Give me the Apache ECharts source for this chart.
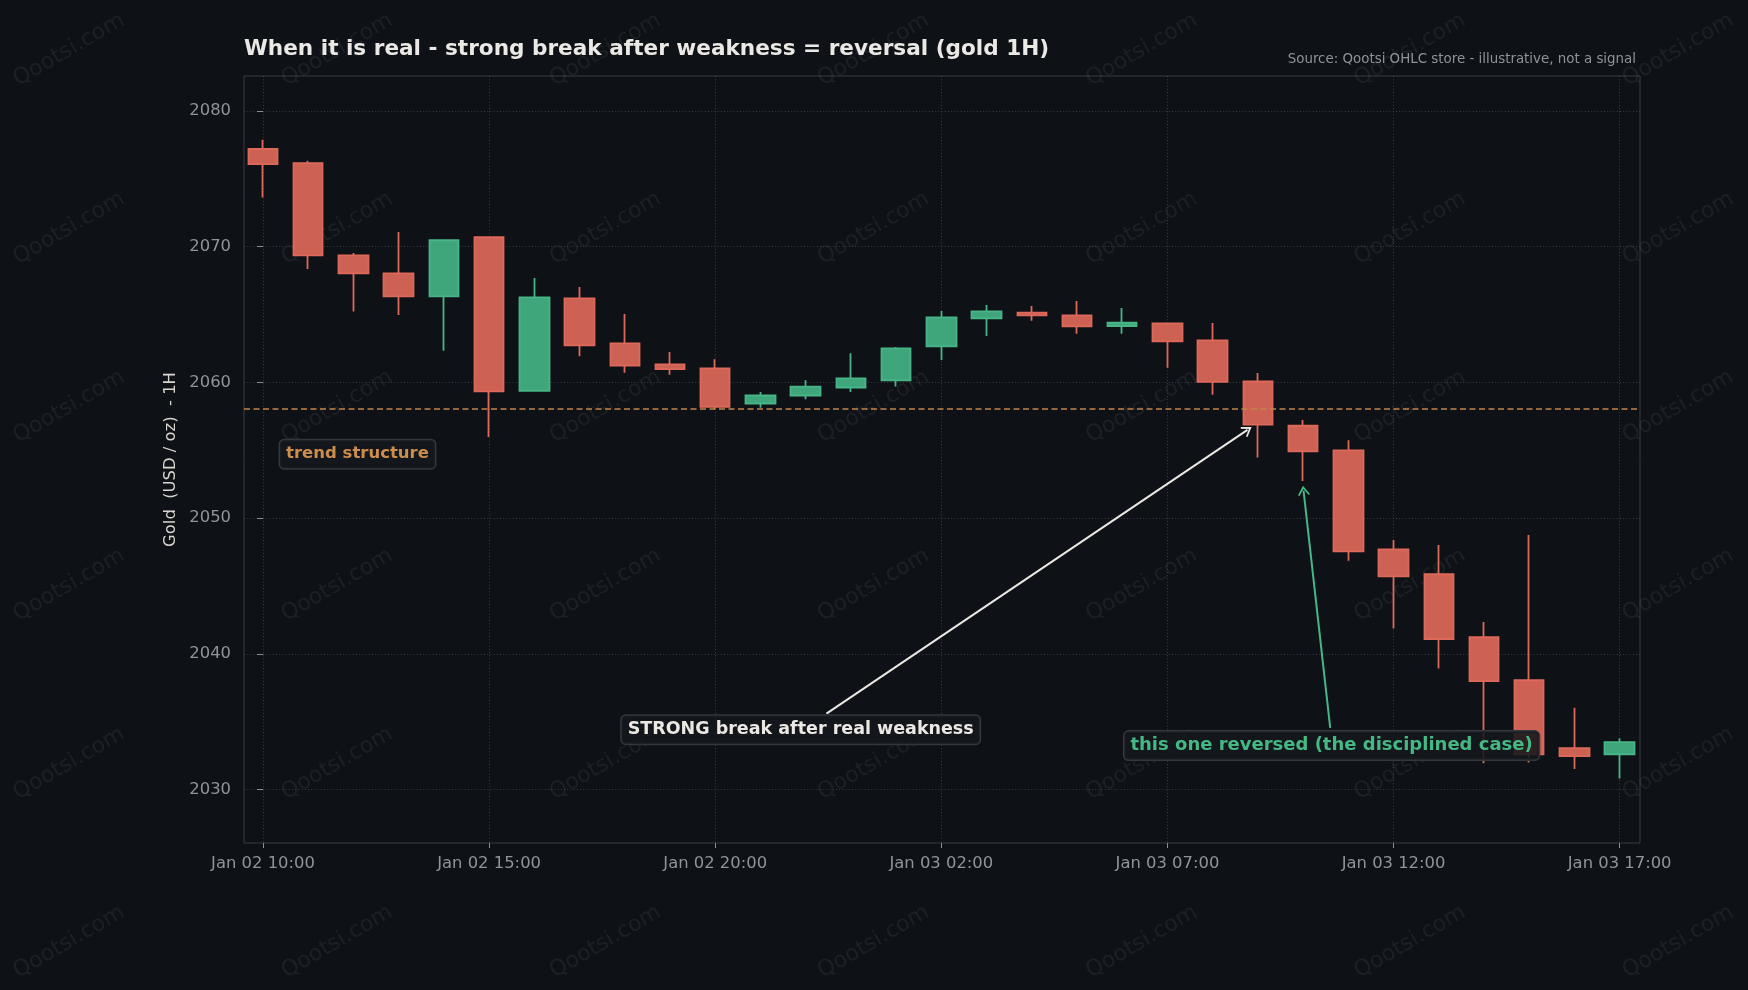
<!DOCTYPE html>
<html>
<head>
<meta charset="utf-8">
<script src="https://cdn.jsdelivr.net/npm/echarts@6/dist/echarts.min.js"></script>
<style>
  html, body { margin: 0; padding: 0; background: #0e1116; }
  #chart { width: 1748px; height: 990px; }
</style>
</head>
<body>
<div id="chart"></div>
<script>
// hourly candles, gold 1H (22:00 -> 00:00 break on Jan 02)
const times = [
  'Jan 02 10:00', 'Jan 02 11:00', 'Jan 02 12:00', 'Jan 02 13:00', 'Jan 02 14:00',
  'Jan 02 15:00', 'Jan 02 16:00', 'Jan 02 17:00', 'Jan 02 18:00', 'Jan 02 19:00',
  'Jan 02 20:00', 'Jan 02 21:00', 'Jan 02 22:00', 'Jan 03 00:00', 'Jan 03 01:00',
  'Jan 03 02:00', 'Jan 03 03:00', 'Jan 03 04:00', 'Jan 03 05:00', 'Jan 03 06:00',
  'Jan 03 07:00', 'Jan 03 08:00', 'Jan 03 09:00', 'Jan 03 10:00', 'Jan 03 11:00',
  'Jan 03 12:00', 'Jan 03 13:00', 'Jan 03 14:00', 'Jan 03 15:00', 'Jan 03 16:00',
  'Jan 03 17:00'
];
const opens = [
  2077.20, 2076.16, 2069.37, 2068.04, 2066.35, 2070.70, 2059.38, 2066.20, 2062.88, 2061.33,
  2061.03, 2058.45, 2059.04, 2059.63, 2060.15, 2062.66, 2064.72, 2065.14, 2064.94, 2064.16,
  2064.35, 2063.10, 2060.07, 2056.81, 2054.99, 2047.71, 2045.87, 2041.23, 2038.06, 2033.06,
  2032.61
];
const closes = [
  2076.09, 2069.37, 2068.04, 2066.35, 2070.48, 2059.34, 2066.27, 2062.73, 2061.25, 2060.99,
  2058.20, 2059.04, 2059.70, 2060.30, 2062.51, 2064.80, 2065.24, 2064.94, 2064.13, 2064.40,
  2063.03, 2060.05, 2056.90, 2054.92, 2047.56, 2045.72, 2041.10, 2037.99, 2032.61, 2032.47,
  2033.50
];
const lows = [
  2073.63, 2068.36, 2065.22, 2064.97, 2062.34, 2055.99, 2059.31, 2061.94, 2060.71, 2060.57,
  2058.03, 2058.13, 2058.77, 2059.29, 2059.71, 2061.65, 2063.42, 2064.55, 2063.59, 2063.59,
  2061.08, 2059.09, 2054.48, 2052.74, 2046.87, 2041.87, 2038.92, 2031.95, 2032.00, 2031.52,
  2030.82
];
const highs = [
  2077.88, 2076.33, 2069.54, 2071.09, 2070.48, 2070.70, 2067.70, 2067.04, 2065.04, 2062.24,
  2061.72, 2059.29, 2060.17, 2062.16, 2062.61, 2065.26, 2065.71, 2065.63, 2066.00, 2065.49,
  2064.35, 2064.38, 2060.69, 2057.23, 2055.75, 2048.39, 2048.02, 2042.36, 2048.76, 2036.03,
  2033.79
];
const yTicks = [2030, 2040, 2050, 2060, 2070, 2080];
const xTicks = [0, 5, 10, 15, 20, 25, 30];
const trendLevel = 2058.1;

const BG = '#0e1116';
const UP = '#3fa67c', UP_EDGE = '#48b587';
const DOWN = '#cd6153', DOWN_EDGE = '#dd695b';
const FONT = 'DejaVu Sans';
const GRID_LINE = { color: '#3a3f46', type: [1, 2.2], width: 1 };

const source = times.map((t, i) => [i, opens[i], closes[i], lows[i], highs[i]]);

const boxLabel = (text, color, size) => ({
  show: true,
  position: 'inside',
  formatter: text,
  color: color,
  fontFamily: FONT,
  fontWeight: 'bold',
  fontSize: size,
  lineHeight: 20,
  backgroundColor: 'rgba(21,24,29,0.88)',
  borderColor: '#34373d',
  borderWidth: 1.5,
  borderRadius: 4,
  padding: [4, 6, 4, 6],
});

const arrowHead = 'path://M0,0 L6,9 L4.7,10 L0,3.3 L-4.7,10 L-6,9 Z';

// faint watermark grid
const watermarks = [];
for (let i = 0; i < 7; i++) {
  for (let j = 0; j < 6; j++) {
    watermarks.push({
      type: 'text',
      x: 69 + 268.2 * i,
      y: 50 + 178.4 * j,
      rotation: Math.PI / 6,
      z: 0,
      silent: true,
      style: {
        text: 'Qootsi.com',
        fill: 'rgba(255,255,255,0.06)',
        font: '22px "DejaVu Sans"',
        textAlign: 'center',
        textVerticalAlign: 'middle',
      },
    });
  }
}

const chart = echarts.init(document.getElementById('chart'));
chart.setOption({
  animation: false,
  backgroundColor: BG,
  textStyle: { fontFamily: FONT },
  title: [
    {
      text: 'When it is real - strong break after weakness = reversal (gold 1H)',
      left: 244,
      top: 38,
      padding: 0,
      textStyle: { color: '#ebe9e5', fontSize: 21.6, fontWeight: 'bold', fontFamily: FONT },
    },
    {
      text: 'Source: Qootsi OHLC store - illustrative, not a signal',
      right: 112,
      top: 53,
      padding: 0,
      textStyle: { color: '#8e939a', fontSize: 13.4, fontWeight: 'normal', fontFamily: FONT },
    },
  ],
  graphic: watermarks,
  grid: {
    left: 244,
    top: 76,
    width: 1396,
    height: 767,
    show: true,
    borderColor: '#3a3d43',
    borderWidth: 1,
    backgroundColor: 'transparent',
  },
  dataset: { source: source },
  xAxis: {
    type: 'value',
    min: -0.42,
    max: 30.45,
    axisLine: { show: false },
    axisTick: { show: true, customValues: xTicks, length: 5, lineStyle: { color: '#8b9097' } },
    axisLabel: {
      customValues: xTicks,
      color: '#8f949b',
      fontSize: 16.4,
      fontFamily: FONT,
      margin: 13,
      formatter: (v) => times[Math.round(v)] || '',
    },
    splitLine: { show: true, lineStyle: GRID_LINE },
  },
  yAxis: {
    type: 'value',
    min: 2026.07,
    max: 2082.58,
    name: 'Gold  (USD / oz)  - 1H',
    nameLocation: 'middle',
    nameGap: 55,
    nameRotate: 90,
    nameTextStyle: { color: '#d8d5cf', fontSize: 16.4, fontFamily: FONT },
    axisLine: { show: false },
    axisTick: { show: true, customValues: yTicks, length: 6, lineStyle: { color: '#8b9097' } },
    axisLabel: {
      customValues: yTicks,
      color: '#8f949b',
      fontSize: 16.4,
      fontFamily: FONT,
      margin: 13,
      padding: [4, 0, 0, 0],
      formatter: (v) => String(Math.round(v)),
    },
    splitLine: { show: true, lineStyle: GRID_LINE },
  },
  series: [
    {
      type: 'candlestick',
      encode: { x: 0, y: [1, 2, 3, 4] },
      barWidth: 30,
      itemStyle: {
        color: UP,
        color0: DOWN,
        borderColor: UP_EDGE,
        borderColor0: DOWN_EDGE,
        borderColorDoji: DOWN_EDGE,
        borderWidth: 1.8,
      },
      markLine: {
        silent: true,
        symbol: ['none', 'none'],
        label: { show: false },
        data: [
          {
            yAxis: trendLevel,
            lineStyle: { color: '#c0854b', type: [6, 3.5], width: 1.6 },
          },
          [
            { coord: [12.46, 2035.6], symbol: 'none', lineStyle: { color: '#ebe8e3', width: 2, type: 'solid' } },
            { coord: [21.77, 2056.51], symbol: arrowHead, symbolSize: [12, 10] },
          ],
          [
            { coord: [23.6, 2034.55], symbol: 'none', lineStyle: { color: '#45b884', width: 2, type: 'solid' } },
            { coord: [23.01, 2052.03], symbol: arrowHead, symbolSize: [12, 10] },
          ],
        ],
      },
      markPoint: {
        silent: true,
        symbol: 'rect',
        symbolSize: 1,
        itemStyle: { color: 'transparent' },
        data: [
          { coord: [2.09, 2054.72], label: boxLabel('trend structure', '#cc8d4d', 16.5) },
          { coord: [11.89, 2034.42], label: boxLabel('STRONG break after real weakness', '#ece9e4', 17.5) },
          { coord: [23.63, 2033.25], label: boxLabel('this one reversed (the disciplined case)', '#45b884', 18) },
        ],
      },
    },
  ],
});
</script>
</body>
</html>
